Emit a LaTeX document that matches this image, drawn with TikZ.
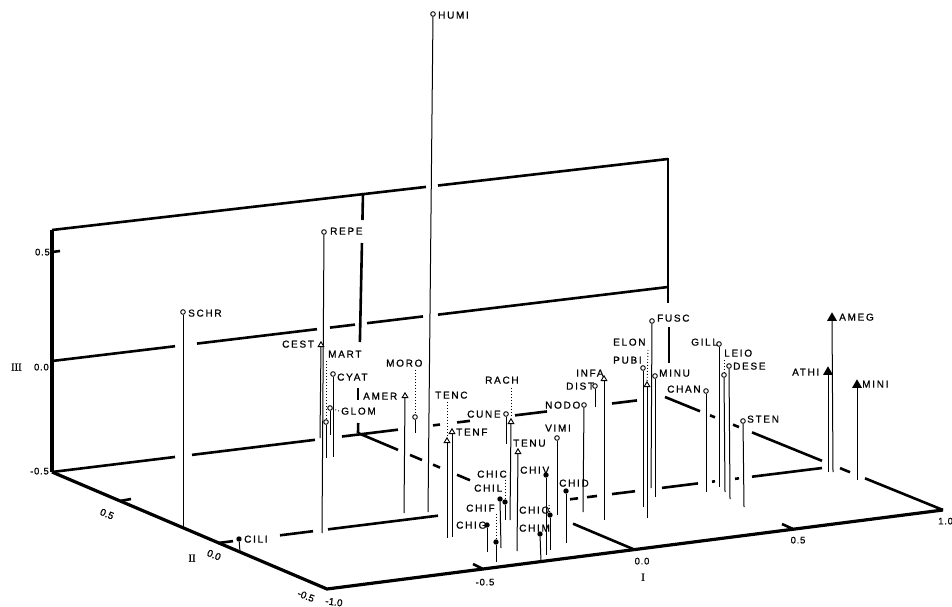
\documentclass[tikz,border=0pt]{standalone}
\usepackage{fontspec}
\setmainfont{Liberation Sans}
\newfontfamily\labfont[LetterSpace=17,FakeBold=0.8]{Liberation Sans}
\newfontfamily\numfont[LetterSpace=8,FakeBold=0.8]{Liberation Sans}
\newfontfamily\rotnumfont[FakeBold=0.8]{Liberation Sans}
\newfontfamily\romfont[FakeBold=0.8]{Liberation Serif}
\usetikzlibrary{shapes.geometric}
\newcommand\spk[9]{%
  \node[#2] (#1) at (#3,#4) {};
  \coordinate (#1b) at (#5,#6);
  \draw[stem] (#1) -- (#1b);
  \node[lab] (#1l) at (#8,#9) {#7};}
\newcommand\fseg[6]{\draw[frame] (#5,{#2+(#4-#2)*((#5-#1)/(#3-#1))}) -- (#6,{#2+(#4-#2)*((#6-#1)/(#3-#1))});}
\newcommand\vseg[6]{\draw[frame] ({#1+(#3-#1)*((#5-#2)/(#4-#2))},#5) -- ({#1+(#3-#1)*((#6-#2)/(#4-#2))},#6);}
\newcommand\lead[2]{\draw[leadl] (#1) -- (#2);}
\begin{document}
\begin{tikzpicture}[x=1pt,y=-1pt,
 frame/.style={line width=2.6pt},
 edge/.style={line width=3.2pt},
 stem/.style={line width=1pt},
 leadl/.style={line width=0.9pt, dash pattern=on 0.9pt off 2.1pt},
 oc/.style={circle, draw, line width=0.9pt, fill=white, inner sep=0pt, minimum size=4.6pt},
 fcir/.style={circle, fill=black, inner sep=0pt, minimum size=5.4pt},
 otri/.style={regular polygon, regular polygon sides=3, draw, line width=0.9pt, fill=white, inner sep=0pt, minimum size=6.5pt},
 ftri/.style={regular polygon, regular polygon sides=3, fill=black, inner sep=0pt, minimum size=11.5pt},
 lab/.style={anchor=west, inner sep=0pt, font=\labfont\fontsize{10}{10}\selectfont, text height=7.2pt, text depth=0pt},
 num/.style={inner sep=0pt, font=\numfont\fontsize{9.5}{9.5}\selectfont, text height=6.8pt, text depth=0pt},
 rnum/.style={inner sep=0pt, font=\rotnumfont\fontsize{10}{10}\selectfont, text height=6.8pt, text depth=0pt},
 rom/.style={inner sep=0pt, font=\romfont\fontsize{10.5}{10.5}\selectfont, text height=7pt, text depth=0pt}
]
\fill[white] (0,0) rectangle (952,607);
\useasboundingbox (0,0) rectangle (952,607);
% ---------- frame ----------
\coordinate (c0) at (52,230);
\coordinate (c1) at (52,472);
\coordinate (c2) at (327,589);
\coordinate (c3) at (943,510);
\draw[edge] (c0) -- (c1);
\draw[edge] (c1) -- (c2) -- (c3);
% top line of back wall
\fseg{52}{230}{668}{159}{52}{426}
\fseg{52}{230}{668}{159}{438}{668}
% III = 0.0 line
\fseg{52}{361}{668}{287}{52}{175}
\fseg{52}{361}{668}{287}{197}{317}
\fseg{52}{361}{668}{287}{330}{355}
\fseg{52}{361}{668}{287}{367}{423}
\fseg{52}{361}{668}{287}{438}{668}
% back bottom
\fseg{52}{472}{665}{397}{52}{175}
\fseg{52}{472}{665}{397}{192}{315}
\fseg{52}{472}{665}{397}{342}{398}
\fseg{52}{472}{665}{397}{433}{440}
\fseg{52}{472}{665}{397}{457}{470}
\fseg{52}{472}{665}{397}{515}{547}
\fseg{52}{472}{665}{397}{612}{637}
% right vertical of back wall
\draw[frame] (668,158) -- (668,303);
\draw[frame] (669,327) -- (669,363);
% right floor edge
\fseg{665}{397}{943}{510}{665}{700}
\fseg{665}{397}{943}{510}{710}{715}
\fseg{665}{397}{943}{510}{733}{739}
\fseg{665}{397}{943}{510}{752}{822}
\fseg{665}{397}{943}{510}{840}{850}
\fseg{665}{397}{943}{510}{865}{943}
% II = 0.0 floor line
\fseg{218}{543}{822}{468}{218}{233}
\fseg{218}{543}{822}{468}{280}{313}
\fseg{218}{543}{822}{468}{328}{438}
\fseg{218}{543}{822}{468}{570}{578}
\fseg{218}{543}{822}{468}{587}{597}
\fseg{218}{543}{822}{468}{612}{635}
\fseg{218}{543}{822}{468}{662}{698}
\fseg{218}{543}{822}{468}{712}{715}
\fseg{218}{543}{822}{468}{735}{739}
\fseg{218}{543}{822}{468}{752}{822}
% I = 0.0 floor line
\fseg{358}{433}{633}{549}{358}{398}
\fseg{358}{433}{633}{549}{410}{422}
\fseg{358}{433}{633}{549}{433}{440}
\fseg{358}{433}{633}{549}{457}{470}
\fseg{358}{433}{633}{549}{573}{633}
% I = 0.0 vertical in back wall
\vseg{358}{433}{363}{193}{433}{423}
\vseg{358}{433}{363}{193}{342}{243}
\vseg{358}{433}{363}{193}{220}{193}
% ticks
\draw[frame] (52,252) -- (60,251);
\draw[frame] (120,501) -- (131,499);
\draw[frame] (483,569) -- (473,564);
\draw[frame] (793,529) -- (782,524);
% axis labels
\node[num, anchor=east] (t1) at (50,252) {0.5};
\node[rom, anchor=west] (t2) at (11,367) {III};
\node[num, anchor=east] (t3) at (49,367) {0.0};
\node[num, anchor=east] (t4) at (49,471) {-0.5};
\node[rnum, rotate=-22] (t5) at (107,514) {0.5};
\node[rnum, rotate=-22] (t6) at (214,555) {0.0};
\node[rnum, rotate=-22] (t7) at (306,596) {-0.5};
\node[rom] (t8) at (192,558) {II};
\node[rnum, rotate=-8] (t9) at (334,602) {-1.0};
\node[num] (t10) at (485,582) {-0.5};
\node[num] (t11) at (642,561) {0.0};
\node[rom] (t12) at (643,577) {I};
\node[num] (t13) at (798,540) {0.5};
\node[num, anchor=west] (t14) at (938,521) {1.0};
% ---------- points ----------
\spk{humi}{oc}{433}{14}{428}{512}{HUMI}{438}{15}
\spk{repe}{oc}{324}{232}{322}{533}{REPE}{330}{231}
\spk{schr}{oc}{183}{312}{183}{527}{SCHR}{188}{313}
\spk{cili}{fcir}{239}{539}{240}{552}{CILI}{244}{539}
\spk{cest}{otri}{321}{345}{320}{438}{CEST}{282}{344}
\spk{mart}{oc}{326}{422}{326}{458}{MART}{328}{354}
\spk{cyat}{oc}{333}{374}{333}{457}{CYAT}{337}{377}
\spk{glom}{oc}{330}{408}{330}{435}{GLOM}{341}{411}
\spk{amer}{otri}{405}{396}{404}{513}{AMER}{363}{396}
\spk{moro}{oc}{415}{417}{415}{433}{MORO}{386}{363}
\spk{tenc}{otri}{447}{441}{447}{538}{TENC}{435}{395}
\spk{tenf}{otri}{452}{432}{452}{537}{TENF}{456}{432}
\spk{rach}{otri}{511}{422}{510}{520}{RACH}{485}{380}
\spk{cune}{oc}{506}{414}{506}{444}{CUNE}{467}{414}
\spk{tenu}{otri}{518}{452}{517}{551}{TENU}{513}{443}
\spk{vimi}{oc}{557}{438}{557}{515}{VIMI}{545}{428}
\spk{nodo}{oc}{584}{405}{583}{512}{NODO}{545}{405}
\spk{dist}{oc}{595}{386}{595}{407}{DIST}{566}{386}
\spk{infa}{otri}{604}{379}{604}{520}{INFA}{576}{373}
\spk{chic}{fcir}{505}{502}{505}{520}{CHIC}{477}{474}
\spk{chil}{fcir}{500}{499}{501}{548}{CHIL}{474}{488}
\spk{chif}{fcir}{496}{542}{496}{562}{CHIF}{466}{508}
\spk{chig}{fcir}{487}{525}{487}{552}{CHIG}{456}{525}
\spk{chiv}{fcir}{546}{475}{546}{555}{CHIV}{520}{470}
\spk{chio}{fcir}{550}{515}{550}{550}{CHIO}{519}{510}
\spk{chim}{fcir}{540}{534}{541}{562}{CHIM}{519}{528}
\spk{chid}{fcir}{566}{491}{566}{543}{CHID}{559}{483}
\spk{elon}{otri}{647}{385}{647}{518}{ELON}{613}{342}
\spk{pubi}{oc}{643}{368}{643}{507}{PUBI}{613}{360}
\spk{fusc}{oc}{652}{321}{651}{488}{FUSC}{657}{318}
\spk{minu}{oc}{655}{376}{655}{497}{MINU}{659}{373}
\spk{chan}{oc}{706}{391}{706}{492}{CHAN}{667}{389}
\spk{gill}{oc}{719}{344}{719}{487}{GILL}{691}{342}
\spk{leio}{oc}{724}{375}{725}{492}{LEIO}{724}{353}
\spk{dese}{oc}{729}{366}{730}{499}{DESE}{733}{366}
\spk{sten}{oc}{743}{421}{744}{507}{STEN}{747}{419}
\spk{ameg}{ftri}{832}{318}{833}{472}{AMEG}{839}{317}
\spk{athi}{ftri}{828}{372}{828}{472}{ATHI}{792}{372}
\spk{mini}{ftri}{857}{385}{857}{480}{MINI}{862}{384}
% mark before AMER
\coordinate (amerm1) at (358,388);
\coordinate (amerm2) at (358,400);
\draw[line width=1.2pt] (amerm1) -- (amerm2);
% dotted leaders
\coordinate (martd) at (326,361);
\coordinate (morod) at (415,370);
\coordinate (tencd) at (447,402);
\coordinate (rachd) at (511,388);
\coordinate (chicd) at (505,480);
\coordinate (chifd) at (496,514);
\coordinate (chiod) at (549,505);
\coordinate (elond) at (648,350);
\coordinate (leiod) at (724,360);
\coordinate (glomd) at (339,411);
\lead{martd}{mart}
\lead{morod}{moro}
\lead{tencd}{tenc}
\lead{rachd}{rach}
\lead{chicd}{chic}
\lead{chifd}{chif}
\lead{chiod}{chio}
\lead{elond}{elon}
\lead{leiod}{leio}
\lead{glomd}{glom}
\end{tikzpicture}
\end{document}
